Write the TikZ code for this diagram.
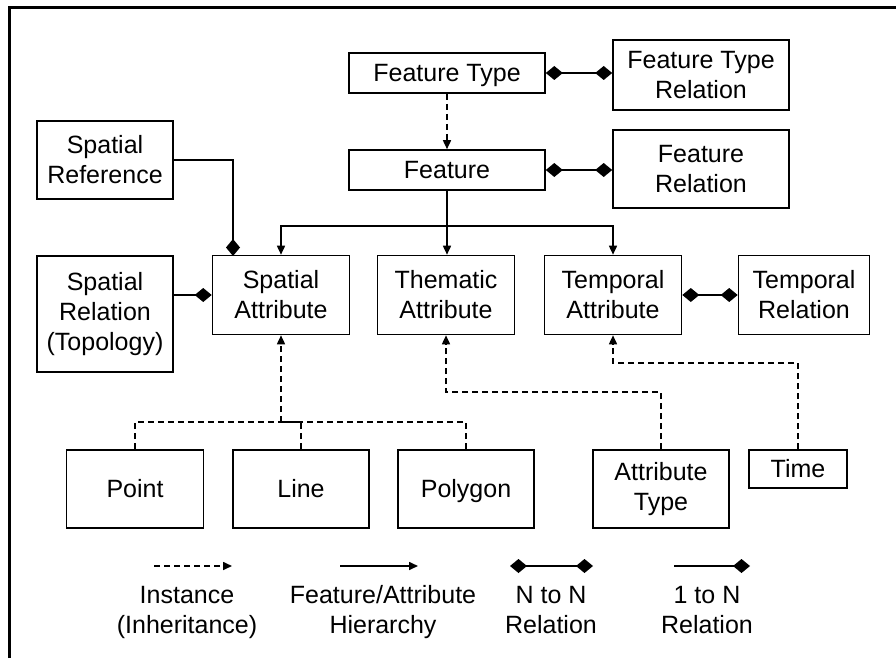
\documentclass[tikz,border=0pt]{standalone}
\usepackage{fontspec}
\setmainfont{Liberation Sans}
\usetikzlibrary{arrows.meta}

\begin{document}
\begin{tikzpicture}[x=1pt,y=-1pt]
    \tikzset{box/.style={draw,line width=1.6pt,align=center,inner sep=0pt,font=\fontsize{25}{30}\selectfont}}
    \tikzset{single/.style={text height=18pt,text depth=1pt}}
    \tikzset{link/.style={line width=1.6pt}}
    \tikzset{inst/.style={link,dash pattern=on 6pt off 4pt,-{Triangle[length=9pt,width=8pt]}}}
    \tikzset{hier/.style={link,-{Triangle[length=9pt,width=8pt]}}}
    \tikzset{nton/.style={link,{Diamond[length=17pt,width=14pt]}-{Diamond[length=17pt,width=14pt]}}}
    \tikzset{oneton/.style={link,-{Diamond[length=17pt,width=14pt]}}}
    \tikzset{legend/.style={align=center,anchor=north,inner sep=0pt,font=\fontsize{25}{30}\selectfont}}
    \useasboundingbox (0,0) rectangle (896,658);
    \draw[line width=3pt] (9,658) -- (9,8) -- (896,8);
    % feature level
    \node[box,single,minimum width=196pt,minimum height=40pt] (ftype) at (447,73) {Feature Type};
    \node[box,minimum width=176pt,minimum height=70pt] (ftrel) at (701,75) {Feature Type\\Relation};
    \node[box,single,minimum width=196pt,minimum height=40pt] (feat) at (447,170) {Feature};
    \node[box,minimum width=176pt,minimum height=78pt] (frel) at (701,169) {Feature\\Relation};
    % attributes
    \node[box,minimum width=136pt,minimum height=78pt] (sref) at (105,160) {Spatial\\Reference};
    \node[box,minimum width=136pt,minimum height=116pt] (srel) at (105,314) {Spatial\\Relation\\(Topology)};
    \node[box,minimum width=137pt,minimum height=79pt] (spat) at (281,295) {Spatial\\Attribute};
    \node[box,minimum width=137pt,minimum height=79pt] (them) at (446,295) {Thematic\\Attribute};
    \node[box,minimum width=137pt,minimum height=79pt] (temp) at (613,295) {Temporal\\Attribute};
    \node[box,minimum width=131pt,minimum height=79pt] (trel) at (804,295) {Temporal\\Relation};
    % instances
    \node[box,single,minimum width=137pt,minimum height=78pt] (point) at (135,489) {Point};
    \node[box,single,minimum width=136pt,minimum height=78pt] (line) at (301,489) {Line};
    \node[box,single,minimum width=136pt,minimum height=78pt] (poly) at (466,489) {Polygon};
    \node[box,minimum width=136pt,minimum height=78pt] (atype) at (661,489) {Attribute\\Type};
    \node[box,single,minimum width=98pt,minimum height=38pt] (time) at (798,469) {Time};
    % connectors
    \coordinate (split) at (447,226);
    \coordinate (sattach) at (233,256);
    \coordinate (geo) at (281,422);
    \coordinate (abend) at (446,392);
    \coordinate (tbend) at (613,363);
    \draw[inst] (ftype) -- (feat);
    \draw[nton] (ftype.east) -- (ftype.east -| ftrel.west);
    \draw[nton] (feat.east) -- (feat.east -| frel.west);
    \draw[hier] (feat.south) -- (feat.south |- them.north);
    \draw[hier] (split) -| (spat.north);
    \draw[hier] (split) -| (temp.north);
    \draw[oneton] (sref.east) -| (sattach);
    \draw[oneton] (srel.east |- spat.west) -- (spat.west);
    \draw[nton] (temp.east) -- (trel.west);
    \draw[inst] (geo) -- (spat.south);
    \draw[link,dash pattern=on 6pt off 4pt] (point.north) |- (geo);
    \draw[link,dash pattern=on 6pt off 4pt] (line.north) |- (geo);
    \draw[link,dash pattern=on 6pt off 4pt] (poly.north) |- (geo);
    \draw[inst] (atype.north) |- (abend) -- (them.south);
    \draw[inst] (time.north) |- (tbend) -- (temp.south);
    % legend
    \coordinate (inA) at (154,566);
    \coordinate (inB) at (232,566);
    \coordinate (hiA) at (340,566);
    \coordinate (hiB) at (418,566);
    \coordinate (nnA) at (510,566);
    \coordinate (nnB) at (593,566);
    \coordinate (onA) at (674,566);
    \coordinate (onB) at (750,566);
    \draw[inst] (inA) -- (inB);
    \draw[hier] (hiA) -- (hiB);
    \draw[nton] (nnA) -- (nnB);
    \draw[oneton] (onA) -- (onB);
    \node[legend] (instlab) at (187,586) {Instance\\(Inheritance)};
    \node[legend] (hierlab) at (383,585) {Feature/Attribute\\Hierarchy};
    \node[legend] (nnlab) at (551,586) {N to N\\Relation};
    \node[legend] (onlab) at (707,586) {1 to N\\Relation};
\end{tikzpicture}
\end{document}
